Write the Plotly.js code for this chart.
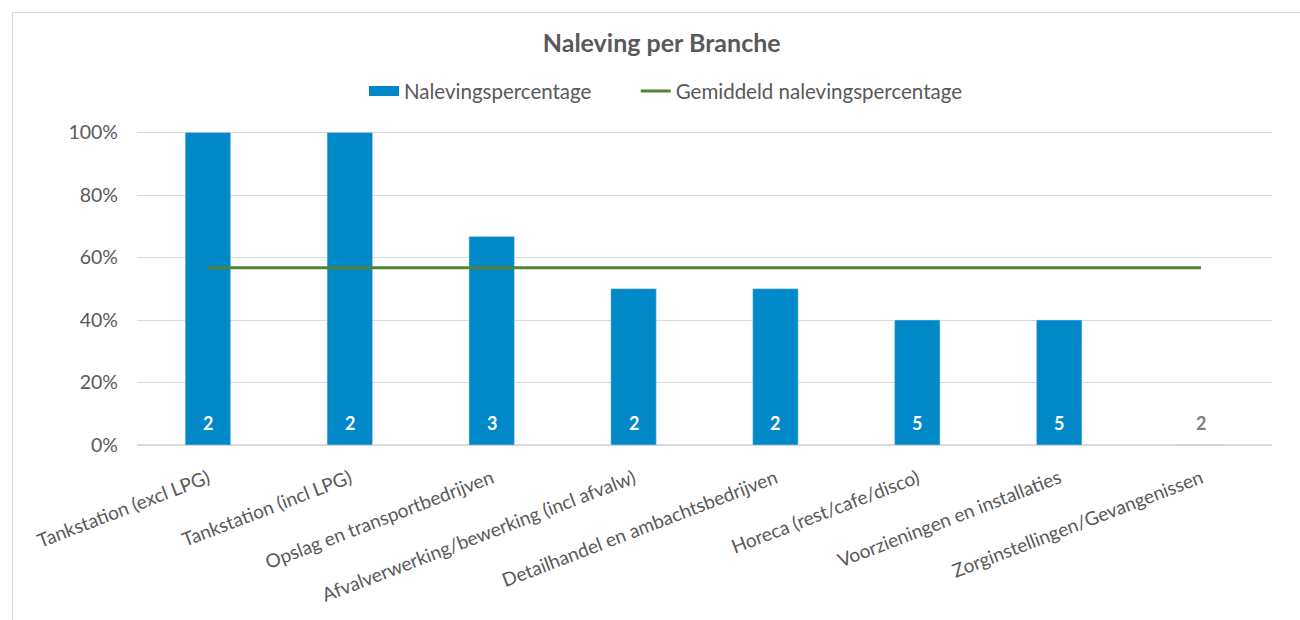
<!DOCTYPE html>
<html>
<head>
<meta charset="utf-8">
<script src="https://cdn.plot.ly/plotly-3.0.1.min.js"></script>
<style>
  body { margin: 0; padding: 0; background: #ffffff; }
  #wrap { position: relative; width: 1300px; height: 620px; }
  #chart { position: absolute; left: 0; top: 0; width: 1300px; height: 620px; }
  #frame { position: absolute; left: 12px; top: 12px; width: 1300px; height: 620px;
           border-left: 1px solid #d9d9d9; border-top: 1px solid #d9d9d9; pointer-events: none; }
</style>
</head>
<body>
<div id="wrap">
  <div id="chart"></div>
  <div id="frame"></div>
</div>
<script>
// ---- data ----
const categories = [
  "Tankstation (excl LPG)",
  "Tankstation (incl LPG)",
  "Opslag en transportbedrijven",
  "Afvalverwerking/bewerking (incl afvalw)",
  "Detailhandel en ambachtsbedrijven",
  "Horeca (rest/cafe/disco)",
  "Voorzieningen en installaties",
  "Zorginstellingen/Gevangenissen"
];
const complianceValues = [1.00, 1.00, 0.667, 0.50, 0.50, 0.40, 0.40, 0.00];
const counts = [2, 2, 3, 2, 2, 5, 5, 2];
const averageValues = [0.567, 0.567, 0.567, 0.567, 0.567, 0.567, 0.567, 0.567];
const yTickValues = [0, 0.2, 0.4, 0.6, 0.8, 1.0];
const yTickLabels = ["0%", "20%", "40%", "60%", "80%", "100%"];

const FONT = "Lato, 'Open Sans', sans-serif";
const GREY = "#595959";
const BLUE = "#0088c9";
const GREEN = "#548235";

const traces = [
  {
    type: "bar",
    name: "Nalevingspercentage",
    x: categories,
    y: complianceValues,
    marker: { color: BLUE, line: { color: "#bcd7ea", width: 0.5 } },
    showlegend: false,
    hoverinfo: "x+y"
  },
  {
    // legend-only entry giving the wide rectangular swatch of the bar series
    type: "scatter",
    mode: "lines",
    name: "Nalevingspercentage",
    x: categories,
    y: complianceValues.map(() => null),
    line: { color: BLUE, width: 14 },
    legend: "legend",
    hoverinfo: "skip"
  },
  {
    type: "scatter",
    mode: "lines",
    name: "Gemiddeld nalevingspercentage",
    x: categories,
    y: averageValues,
    line: { color: GREEN, width: 3 },
    legend: "legend2"
  }
];

const annotations = categories.map((c, i) => ({
  x: c, y: 0, xref: "x", yref: "y",
  yanchor: "bottom", yshift: 9,
  text: "<b>" + counts[i] + "</b>",
  showarrow: false,
  font: { family: FONT, size: 18, color: complianceValues[i] > 0 ? "#ffffff" : "#7f7f7f" }
}));

const legendBase = {
  orientation: "h",
  xref: "container", xanchor: "left",
  yref: "container", y: 0.853, yanchor: "middle",
  font: { family: FONT, size: 20.5, color: GREY },
  bgcolor: "rgba(0,0,0,0)"
};

const layout = {
  width: 1300, height: 620,
  paper_bgcolor: "#ffffff", plot_bgcolor: "#ffffff",
  margin: { l: 137, r: 28, t: 131, b: 175 },
  title: {
    text: "<b>Naleving per Branche</b>",
    font: { family: FONT, size: 25, color: GREY },
    x: 0.509, xref: "container", xanchor: "center",
    y: 0.93, yref: "container", yanchor: "middle"
  },
  showlegend: true,
  legend: Object.assign({}, legendBase, { x: 0.28 }),
  legend2: Object.assign({}, legendBase, { x: 0.489 }),
  bargap: 0.68,
  xaxis: {
    type: "category",
    tickangle: -21,
    tickfont: { family: FONT, size: 19, color: GREY },
    showgrid: false,
    showline: false,
    ticks: "",
    zeroline: false,
    ticklabelstandoff: 18
  },
  yaxis: {
    range: [0, 1.005],
    tickvals: yTickValues,
    ticktext: yTickLabels,
    tickfont: { family: FONT, size: 19.5, color: GREY },
    showgrid: true,
    gridcolor: "#d9d9d9",
    gridwidth: 1,
    zeroline: true,
    zerolinecolor: "#d9d9d9",
    zerolinewidth: 1.5,
    showline: false,
    ticks: "",
    ticklabelstandoff: 18
  },
  annotations: annotations
};

Plotly.newPlot("chart", traces, layout, { displayModeBar: false, staticPlot: true });
</script>
</body>
</html>
